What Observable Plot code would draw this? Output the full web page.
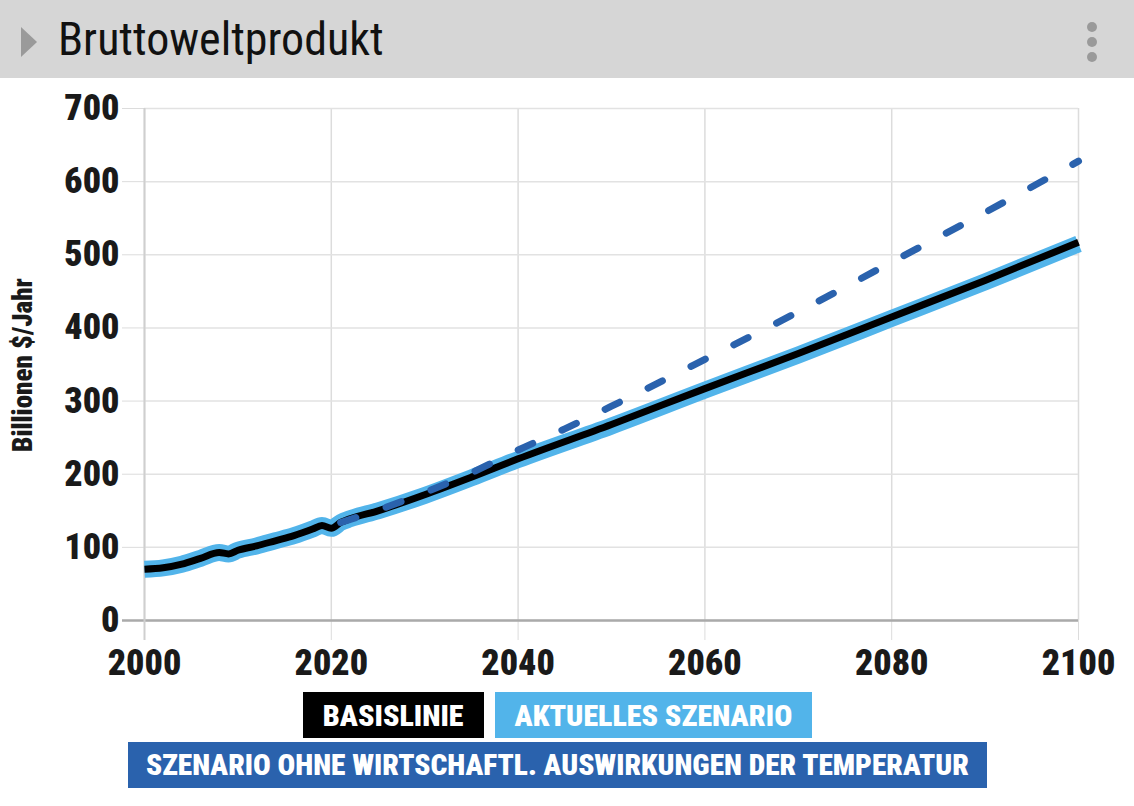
<!DOCTYPE html>
<html>
<head>
<meta charset="utf-8">
<script src="https://cdn.jsdelivr.net/npm/d3@7"></script>
<script src="https://cdn.jsdelivr.net/npm/@observablehq/plot@0.6"></script>
<style>
  html, body { margin: 0; padding: 0; background: #fff; }
  body { width: 1134px; height: 806px; position: relative; overflow: hidden;
         font-family: "Roboto Condensed", "Liberation Sans Narrow", "DejaVu Sans Condensed", Roboto, sans-serif; }
  #header { position: absolute; left: 0; top: 0; width: 1134px; height: 78px; background: #d6d6d6; }
  #title { position: absolute; left: 58px; top: 12px; font-size: 46px; color: #111; font-stretch: condensed; }
  #tri { position: absolute; left: 21px; top: 27px; width: 0; height: 0;
         border-top: 15px solid transparent; border-bottom: 15px solid transparent; border-left: 16px solid #9a9a9a; }
  .dot { position: absolute; left: 1087px; width: 10px; height: 10px; border-radius: 50%; background: #9a9a9a; }
  #chart { position: absolute; left: 0; top: 78px; }
  #ylabel { position: absolute; left: 23px; top: 365px; transform: translate(-50%, -50%) rotate(-90deg);
            font-size: 27px; font-weight: 900; white-space: nowrap; color: #1a1a1a; font-stretch: condensed; }
  .legrow { position: absolute; left: 0; width: 1115px; display: flex; justify-content: center; gap: 11px; }
  .leg { height: 46px; line-height: 47px; color: #fff; font-weight: 900; font-size: 30px; padding: 0 20px;
         font-stretch: condensed; white-space: nowrap; }
  #row2 .leg { font-size: 29.4px; padding: 0 18px; }
</style>
</head>
<body>
<div id="header"><div id="tri"></div><div id="title">Bruttoweltprodukt</div>
  <div class="dot" style="top:22px"></div><div class="dot" style="top:37px"></div><div class="dot" style="top:52px"></div>
</div>
<div id="chart"></div>
<div id="ylabel">Billionen $/Jahr</div>
<div class="legrow" style="top:692px" id="row1"></div>
<div class="legrow" style="top:742px" id="row2"></div>
<script>
const fontFam = '"Roboto Condensed", "Liberation Sans Narrow", "DejaVu Sans Condensed", Roboto, sans-serif';

// Baseline (Basislinie)
const baseYears  = [2000,2002,2004,2006,2008,2009,2010,2012,2014,2016,2018,2019,2020,2021,2022,2025,2030,2035,2040,2050,2060,2070,2080,2090,2100];
const baseValues = [70,72,77,85,93,91,96,102,109,116,125,130,126,134,139,150,172,196,221,268,317,365,415,465,517];

// Aktuelles Szenario
const curYears  = [2000,2002,2004,2006,2008,2009,2010,2012,2014,2016,2018,2019,2020,2021,2022,2025,2030,2035,2040,2050,2060,2070,2080,2090,2100];
const curValues = [70,72,77,85,93,91,96,102,109,116,125,130,126,134,139,150,171,195,220,266,315,363,413,463,515];

// Szenario ohne wirtschaftl. Auswirkungen der Temperatur
const noTempYears  = [2021,2025,2030,2035,2040,2045,2050,2060,2070,2080,2090,2100];
const noTempValues = [134,151,175,202,233,262,293,357,422,490,558,628];

const xTicks = [2000,2020,2040,2060,2080,2100];
const yTicks = [0,100,200,300,400,500,600,700];

const legendRow1 = [["BASISLINIE", "#000000"], ["AKTUELLES SZENARIO", "#52b4ea"]];
const legendRow2 = [["SZENARIO OHNE WIRTSCHAFTL. AUSWIRKUNGEN DER TEMPERATUR", "#2a62ad"]];

const base = baseYears.map((y, i) => ({year: y, value: baseValues[i]}));
const cur = curYears.map((y, i) => ({year: y, value: curValues[i]}));
const noTemp = noTempYears.map((y, i) => ({year: y, value: noTempValues[i]}));

const chart = Plot.plot({
  width: 1134,
  height: 612,
  marginLeft: 144,
  marginRight: 56,
  marginTop: 30,
  marginBottom: 70,
  style: {fontFamily: fontFam, background: "transparent", color: "#1a1a1a"},
  x: {domain: [2000, 2100]},
  y: {domain: [0, 700]},
  marks: [
    Plot.axisX({ticks: xTicks, tickFormat: d => String(d), tickSize: 20, tickPadding: 9, stroke: "#dcdcdc",
                fontSize: 36, fontWeight: 900, label: null}),
    Plot.axisY({ticks: yTicks, tickSize: 22, tickPadding: 3, stroke: "#dcdcdc",
                fontSize: 36, fontWeight: 900, label: null}),
    Plot.gridX(xTicks, {stroke: "#dcdcdc", strokeOpacity: 1, strokeWidth: 1.5}),
    Plot.gridY(yTicks, {stroke: "#e2e2e2", strokeOpacity: 1, strokeWidth: 1.5}),
    Plot.ruleY([0], {stroke: "#aaaaaa", strokeWidth: 2.5, insetLeft: -22}),
    Plot.ruleX([2000], {stroke: "#cfcfcf", strokeWidth: 2, insetBottom: -20}),
    Plot.line(cur, {x: "year", y: "value", stroke: "#52b4ea", strokeWidth: 17, curve: "monotone-x", strokeLinejoin: "round", strokeLinecap: "butt"}),
    Plot.line(base, {x: "year", y: "value", stroke: "#000000", strokeWidth: 7, curve: "monotone-x", strokeLinejoin: "round", strokeLinecap: "butt"}),
    Plot.line(noTemp, {x: "year", y: "value", stroke: "#2a62ad", strokeWidth: 7, curve: "monotone-x", strokeDasharray: "16,32", strokeLinecap: "round"})
  ]
});
document.getElementById("chart").appendChild(chart);

function fillRow(id, items) {
  const row = document.getElementById(id);
  for (const [label, color] of items) {
    const d = document.createElement("div");
    d.className = "leg";
    d.style.background = color;
    d.textContent = label;
    row.appendChild(d);
  }
}
fillRow("row1", legendRow1);
fillRow("row2", legendRow2);
</script>
</body>
</html>
